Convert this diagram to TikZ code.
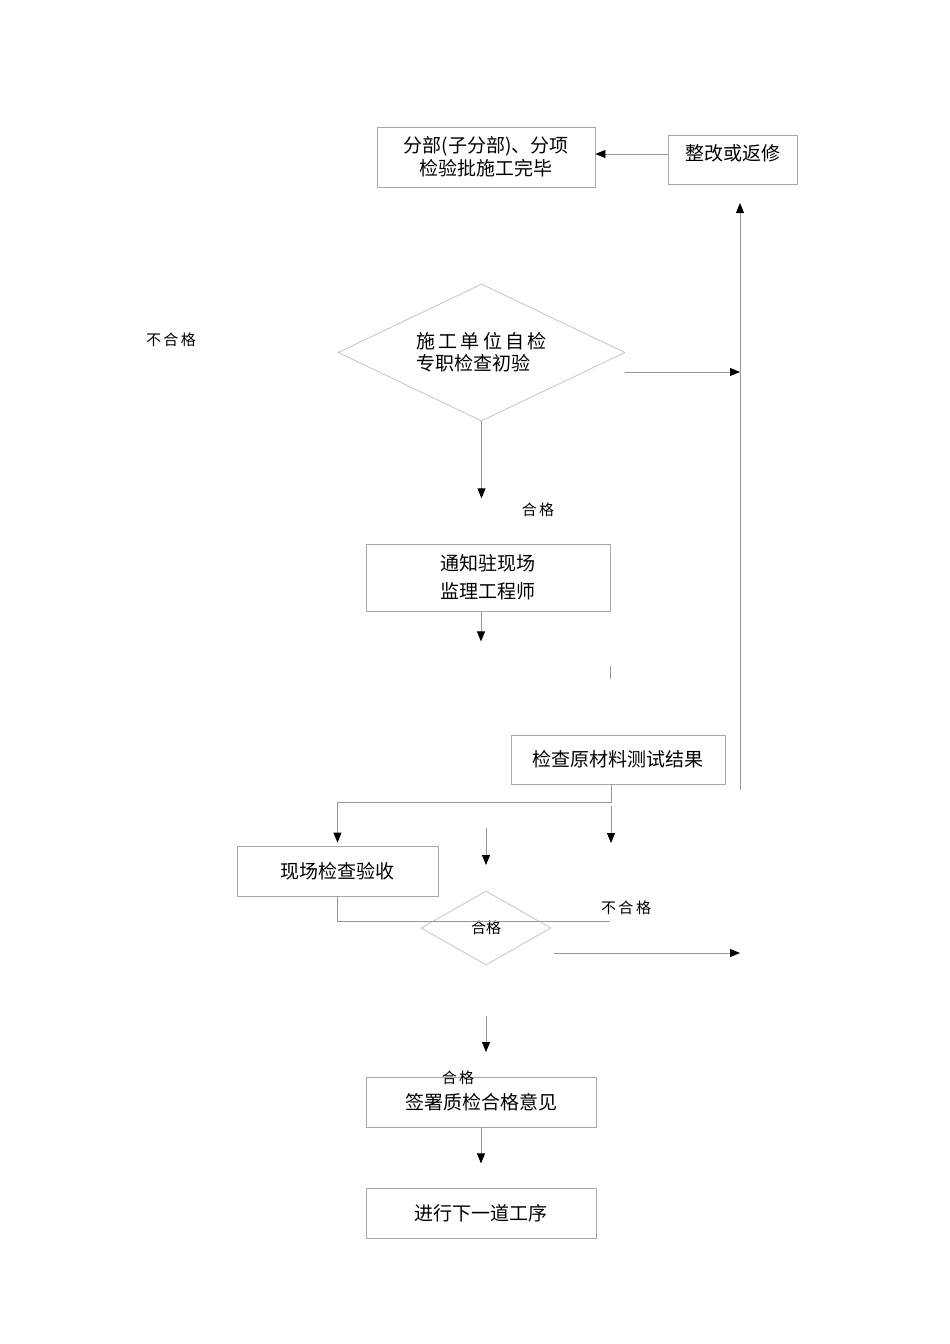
\documentclass[tikz,border=0pt]{standalone}
\usepackage{fontspec}
\setmainfont{Noto Sans CJK SC}
\usetikzlibrary{arrows.meta,shapes.geometric}
\definecolor{Frame}{HTML}{A8A8A8}
\definecolor{Wire}{HTML}{989898}

\begin{document}
\begin{tikzpicture}[x=1pt,y=-1pt,
  box/.style={draw=Frame,line width=.8pt,inner sep=0pt,align=center,
    font=\fontsize{19}{23}\selectfont},
  dia/.style={draw=Frame!75,line width=.7pt,diamond,aspect=2,inner sep=0pt,align=left},
  lbl/.style={font=\fontsize{15}{18}\selectfont,inner sep=0pt},
  arrow/.style={-{Triangle[length=10pt,width=8pt,color=black]},draw=Wire,line width=.8pt},
  wire/.style={draw=Wire,line width=.8pt}]
\useasboundingbox (0,0) rectangle (950,1344);
% boxes and decisions
\node[box,minimum width=218pt,minimum height=60pt](finish) at (486,157){分部(子分部)、分项\\检验批施工完毕};
\node[box,minimum width=129pt,minimum height=49pt,text height=25pt,text depth=24pt](rework) at (732.5,159.5){整改或返修};
\node[dia,minimum width=287pt,minimum height=137pt,font=\fontsize{19}{22}\selectfont](selfcheck) at (481.5,352.5){施\,工\,单\,位\,自\,检\\专职检查初验};
\node[box,minimum width=244pt,minimum height=67pt,font=\fontsize{19}{28}\selectfont](notify) at (488,577.5){通知驻现场\\监理工程师};
\node[box,minimum width=214pt,minimum height=49pt](material) at (618,759.5){检查原材料测试结果};
\node[box,minimum width=201pt,minimum height=50pt](site) at (337.5,871){现场检查验收};
\node[dia,minimum width=130pt,minimum height=74pt,font=\fontsize{15}{18}\selectfont](judge) at (486,928){合格};
\node[box,minimum width=230pt,minimum height=50pt](sign) at (481,1102){签署质检合格意见};
\node[box,minimum width=230pt,minimum height=50pt](next) at (481,1213){进行下一道工序};
% labels
\node[lbl](fail1) at (171,340){不\,合\,格};
\node[lbl](pass1) at (538,510){合\,格};
\node[lbl](fail2) at (626,908){不\,合\,格};
\node[lbl](pass2) at (458,1078){合\,格};
% free ends
\coordinate (retbot) at (740,790);
\coordinate (rettop) at (740,203);
\coordinate (bus1) at (740,372);
\coordinate (bus2) at (740,953);
% connectors
\draw[arrow](rework.west |- 0,154)--(finish.east |- 0,154);
\draw[arrow](retbot)--(rettop);
\draw[arrow](selfcheck.east |- 0,372)--(bus1);
\draw[arrow](selfcheck.south)--++(0,77);
\draw[arrow]([xshift=-7pt]notify.south)--++(0,30);
\draw[wire](610,666)--(610,679);
\draw[arrow,shorten >=3pt]([xshift=-7pt]material.south)--++(0,18)-|(site.north);
\draw[arrow](611,806)--(611,843);
\draw[arrow](486,828)--(486,865);
\draw[wire](site.south)|-(610,921);
\draw[arrow](554,953)--(bus2);
\draw[arrow](486,1016)--(486,1052);
\draw[arrow](sign.south)--++(0,36);
\end{tikzpicture}
\end{document}
